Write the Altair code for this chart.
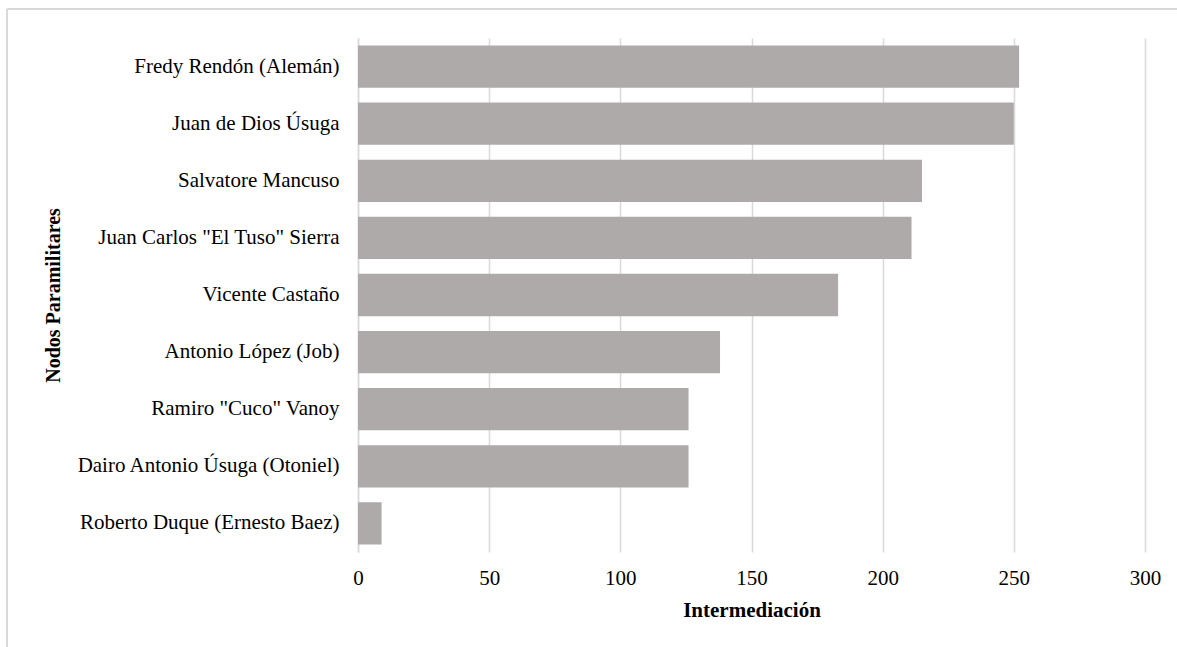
import altair as alt
import pandas as pd

names = [
    "Fredy Rendón (Alemán)",
    "Juan de Dios Úsuga ",
    "Salvatore Mancuso",
    'Juan Carlos "El Tuso" Sierra',
    "Vicente Castaño",
    "Antonio López (Job)",
    'Ramiro "Cuco" Vanoy ',
    "Dairo Antonio Úsuga (Otoniel)",
    "Roberto Duque (Ernesto Baez)",
]
values = [252, 250, 215, 211, 183, 138, 126, 126, 9]
x_ticks = [0, 50, 100, 150, 200, 250, 300]

df = pd.DataFrame({"nodo": names, "intermediacion": values})

FONT = "Liberation Serif"
W, H = 787, 514

bars = alt.Chart(df).mark_bar(color="#AEAAAA").encode(
    x=alt.X(
        "intermediacion:Q",
        scale=alt.Scale(domain=[0, 300], nice=False),
        axis=alt.Axis(
            values=x_ticks,
            title="Intermediación",
            titleFont=FONT,
            titleFontSize=21,
            titleFontWeight="bold",
            titleColor="#000000",
            titleY=58,
            titleBaseline="middle",
            labelFont=FONT,
            labelFontSize=21,
            labelColor="#000000",
            labelPadding=15,
            labelFlush=False,
            ticks=False,
            domain=False,
            grid=True,
            gridColor="#D9D9D9",
            gridWidth=1.5,
        ),
    ),
    y=alt.Y(
        "nodo:N",
        sort=None,
        scale=alt.Scale(paddingInner=0.26, paddingOuter=0.13),
        axis=alt.Axis(
            title="Nodos Paramilitares",
            titleFont=FONT,
            titleFontSize=20,
            titleFontWeight="bold",
            titleColor="#000000",
            titleAngle=270,
            titleX=-305,
            titleY=H / 2,
            titleAlign="center",
            titleBaseline="middle",
            labelFont=FONT,
            labelFontSize=21,
            labelColor="#000000",
            labelPadding=19,
            labelLimit=400,
            ticks=False,
            domain=True,
            domainColor="#D9D9D9",
            domainWidth=1.5,
        ),
    ),
)

border_top = alt.Chart(df).mark_rule(color="#D9D9D9", strokeWidth=1.5).encode(
    x=alt.value(-351), x2=alt.value(1177 - 358), y=alt.value(-29)
)
border_left = alt.Chart(df).mark_rule(color="#D9D9D9", strokeWidth=1.5).encode(
    x=alt.value(-351), y=alt.value(-29), y2=alt.value(647 - 38)
)

chart = (
    alt.layer(bars, border_top, border_left)
    .properties(
        width=W,
        height=H,
        autosize=alt.AutoSizeParams(type="none"),
        padding={"left": 358, "top": 38, "right": 1177 - 358 - W, "bottom": 647 - 38 - H},
        background="white",
    )
    .configure_view(stroke=None)
)

chart.save("out.html", embed_options={"renderer": "svg", "actions": False})
